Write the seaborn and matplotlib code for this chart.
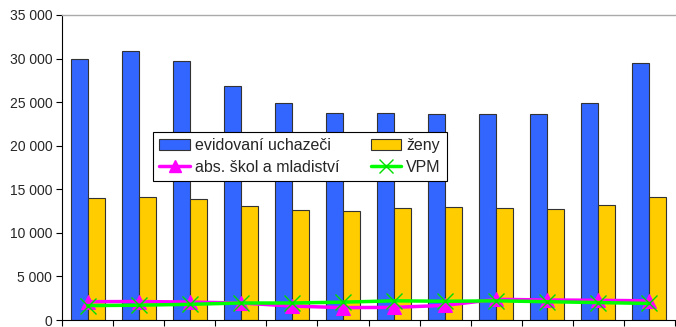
import numpy as np
import pandas as pd
import matplotlib
matplotlib.use("Agg")
import matplotlib.pyplot as plt
import seaborn as sns
from matplotlib.ticker import FuncFormatter, FixedLocator
from matplotlib.patches import Patch
from matplotlib.lines import Line2D

months = ["1", "2", "3", "4", "5", "6", "7", "8", "9", "10", "11", "12"]
uchazeci = [30000, 30900, 29700, 26900, 24850, 23700, 23800, 23650, 23600, 23650, 24900, 29500]
zeny = [14000, 14100, 13850, 13100, 12660, 12470, 12850, 12970, 12800, 12740, 13160, 14100]
absolventi = [2100, 2120, 2060, 1950, 1600, 1420, 1450, 1680, 2370, 2300, 2260, 2200]
vpm = [1650, 1700, 1800, 1950, 1950, 2050, 2200, 2150, 2200, 2100, 2000, 1900]

names = ["evidovaní uchazeči", "ženy", "abs. škol a mladiství", "VPM"]

sns.set_style("white")
plt.rcParams["font.family"] = ["Liberation Sans", "DejaVu Sans"]

fig = plt.figure(figsize=(6.76, 3.27), dpi=100)
ax = fig.add_axes([62 / 676, 1 - 320 / 327, 613 / 676, 305 / 327])

df = pd.DataFrame({
    "month": months * 2,
    "value": uchazeci + zeny,
    "serie": [names[0]] * 12 + [names[1]] * 12,
})
sns.barplot(data=df, x="month", y="value", hue="serie", order=months,
            hue_order=names[:2], palette=["#3366FF", "#FFCC00"],
            width=0.667, edgecolor="#333333", linewidth=0.8,
            saturation=1, ax=ax, legend=False, errorbar=None)

xpos = np.arange(len(months))
sns.lineplot(x=xpos, y=absolventi, ax=ax, color="#FF00FF", linewidth=2.5,
             marker="^", markersize=10, markeredgecolor="#FF00FF")
sns.lineplot(x=xpos, y=vpm, ax=ax, color="#00FF00", linewidth=2.5,
             marker="x", markersize=11, markeredgewidth=1.0,
             markeredgecolor="#00DD00")

ax.set_xlim(-0.5, 11.5)
ax.set_ylim(0, 35000)
ax.yaxis.set_major_locator(FixedLocator(np.arange(0, 35001, 5000)))
ax.yaxis.set_major_formatter(FuncFormatter(lambda v, p: f"{int(v):,}".replace(",", " ")))
ax.xaxis.set_major_locator(FixedLocator(np.arange(-0.5, 12, 1)))
ax.set_xticklabels([])
ax.set_xlabel("")
ax.set_ylabel("")
ax.tick_params(axis="both", which="major", direction="out", length=4, width=0.8,
               color="black", labelsize=10, bottom=True, left=True)
ax.tick_params(axis="y", pad=3)

for s in ["left", "bottom"]:
    ax.spines[s].set_color("black")
    ax.spines[s].set_linewidth(0.8)
ax.spines["right"].set_visible(False)
ax.spines["top"].set_color("#AAAAAA")
ax.spines["top"].set_linewidth(1.0)

handles = [
    Patch(facecolor="#3366FF", edgecolor="#333333", linewidth=0.8),
    Line2D([], [], color="#FF00FF", linewidth=2.5, marker="^", markersize=9),
    Patch(facecolor="#FFCC00", edgecolor="#333333", linewidth=0.8),
    Line2D([], [], color="#00FF00", linewidth=2.5, marker="x", markersize=10,
           markeredgewidth=1.0, markeredgecolor="#00DD00"),
]
labels = [names[0], names[2], names[1], names[3]]
leg = ax.legend(handles, labels, ncol=2, loc="upper left",
                bbox_to_anchor=((153 - 62) / 613, (320 - 132) / 305),
                frameon=True, fancybox=False, shadow=False, fontsize=11.5,
                borderpad=0.4, handlelength=1.9, handletextpad=0.3,
                columnspacing=2.0, labelspacing=0.4, borderaxespad=0)
leg.get_frame().set_edgecolor("black")
leg.get_frame().set_linewidth(0.8)
leg.get_frame().set_alpha(1)

fig.savefig("out.png", dpi=100)
